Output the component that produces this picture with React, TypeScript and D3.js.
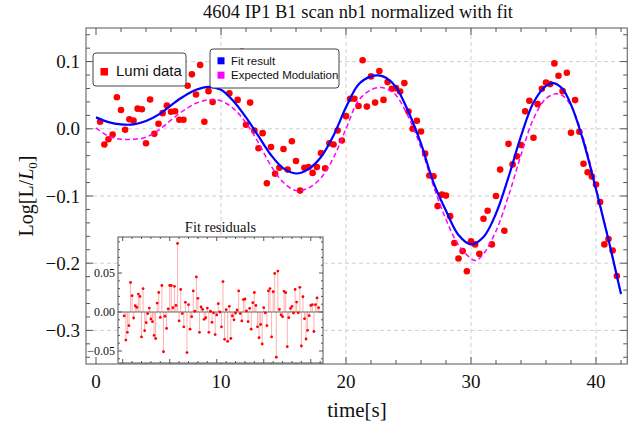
import React from 'react';
import * as d3 from 'd3';

const timeS = [0.33,0.67,1,1.33,1.67,2,2.33,2.67,3,3.33,3.67,4,4.33,4.67,5,5.33,5.67,6,6.33,6.67,7,7.33,7.67,8,8.33,8.67,9,9.33,9.67,10,10.33,10.67,11,11.33,11.67,12,12.33,12.67,13,13.33,13.67,14,14.33,14.67,15,15.33,15.67,16,16.33,16.67,17,17.33,17.67,18,18.33,18.67,19,19.33,19.67,20,20.33,20.67,21,21.33,21.67,22,22.33,22.67,23,23.33,23.67,24,24.33,24.67,25,25.33,25.67,26,26.33,26.67,27,27.33,27.67,28,28.33,28.67,29,29.33,29.67,30,30.33,30.67,31,31.33,31.67,32,32.33,32.67,33,33.33,33.67,34,34.33,34.67,35,35.33,35.67,36,36.33,36.67,37,37.33,37.67,38,38.33,38.67,39,39.33,39.67,40,40.33,40.67,41,41.33,41.67];

const lumiData = [0.0104,-0.0234,-0.0155,-0.0085,0.047,0.028,-0.0015,0.0143,0.0124,0.030,0.029,-0.0214,0.0437,-0.0075,0.0075,0.0233,0.0347,0.0253,0.0262,0.0134,0.0134,0.064,0.081,0.051,0.095,0.0104,0.056,0.040,0.065,0.094,0.090,0.053,0.074,0.043,0.115,0.006,0.039,-0.0025,-0.029,-0.0065,-0.081,-0.027,-0.067,-0.058,-0.030,-0.0607,-0.0185,-0.048,-0.092,-0.058,-0.057,-0.0656,-0.057,-0.036,-0.0587,-0.0214,-0.0234,-0.0025,-0.0174,0.0188,0.0447,0.0447,0.034,0.102,0.033,0.078,0.039,0.086,0.043,0.0695,0.0596,0.0605,0.0556,0.068,0.0258,0.0,0.012,-0.004,-0.037,-0.0696,-0.0706,-0.115,-0.098,-0.0994,-0.130,-0.170,-0.193,-0.182,-0.212,-0.1675,-0.172,-0.186,-0.134,-0.122,-0.172,-0.100,-0.0607,-0.1516,-0.0224,-0.053,-0.041,-0.024,0.026,0.0417,-0.0134,0.0367,0.0596,0.069,0.0665,0.0973,0.079,0.056,0.0834,-0.006,0.0427,-0.0045,-0.052,-0.0647,-0.071,-0.083,-0.109,-0.172,-0.164,-0.181,-0.219];

const residuals = [-0.005,-0.036,-0.026,-0.0175,0.038,0.021,-0.0077,0.008,0.006,0.023,0.020,-0.032,0.030,-0.024,-0.0137,-0.002,0.005,-0.009,-0.0124,-0.030,-0.034,0.0115,0.025,-0.007,0.034,-0.051,-0.0055,-0.021,0.004,0.034,0.034,0.0055,0.033,0.0085,0.088,-0.0115,0.029,-0.002,-0.019,0.0124,-0.052,0.0094,-0.022,-0.006,0.027,0.001,0.045,0.0175,-0.026,0.0064,0.0034,-0.0094,-0.0073,0.005,-0.026,0.001,-0.0132,-0.001,-0.029,-0.0038,0.0107,0.0,-0.019,
0.039,-0.035,0.003,-0.0376,0.0073,-0.034,-0.005,-0.010,-0.0013,0.0026,0.027,-0.002,-0.0115,0.016,0.0167,0.0013,-0.0124,0.0047,-0.022,0.012,0.025,0.0085,-0.019,-0.033,-0.016,-0.041,0.0055,-0.001,-0.0175,0.027,0.030,-0.032,0.026,0.0495,-0.058,0.0525,0.0034,-0.0038,-0.006,0.0265,0.0248,-0.0444,-0.0073,0.0047,0.0073,-0.0013,0.029,0.0128,-0.001,0.0316,-0.0436,0.0196,-0.0085,-0.0346,-0.0235,-0.0047,0.0085,0.0094,-0.025,0.0094,0.018,0.0055];

const fitT = [0,1,2,3,4,5,6,7,8,9,10,11,12,13,14,15,16,17,18,19,20,21,22,22.6,23.2,24,25,26,27,28,29,30,31,32,33,34,35,36,36.6,37.3,38,39,40,41,42];
const fitV = [0.017,0.010,0.0065,0.0065,0.0115,0.021,0.035,0.048,0.058,0.0625,0.058,0.041,0.017,-0.011,-0.039,-0.059,-0.0665,-0.060,-0.042,-0.010,0.032,0.066,0.078,0.0795,0.076,0.062,0.025,-0.022,-0.080,-0.122,-0.158,-0.172,-0.161,-0.126,-0.072,-0.011,0.039,0.064,0.068,0.060,0.036,-0.019,-0.090,-0.165,-0.246];

const expT = [0,1,2,3,4,5,6,7,8,9,10,11,12,13,14,15,16,17,18,19,20,21,22,22.8,23.4,24,25,26,27,28,29,30,30.4,31,32,33,34,35,36,36.8,37.3,38,39,40,41,42];
const expV = [0.0015,-0.011,-0.0155,-0.0155,-0.0125,-0.002,0.013,0.027,0.038,0.043,0.0415,0.030,0.009,-0.021,-0.055,-0.080,-0.092,-0.088,-0.073,-0.043,0.0,0.042,0.058,0.0615,0.058,0.050,0.0173,-0.028,-0.085,-0.135,-0.173,-0.193,-0.196,-0.186,-0.152,-0.100,-0.039,0.015,0.045,0.052,0.0496,0.034,-0.015,-0.088,-0.165,-0.246];

const xTickValues = [0, 10, 20, 30, 40];
const xTickLabels = ['0', '10', '20', '30', '40'];
const yTickValues = [0.1, 0, -0.1, -0.2, -0.3];
const yTickLabels = ['0.1', '0.0', '\u22120.1', '\u22120.2', '\u22120.3'];
const insetYTickValues = [0.05, 0, -0.05];
const insetYTickLabels = ['0.05', '0.00', '\u22120.05'];

const titleText = '4604 IP1 B1 scan nb1 normalized with fit';
const legendLumi = 'Lumi data';
const legendFit = 'Fit result';
const legendExp = 'Expected Modulation';

const SERIF = '"Liberation Serif", "Times New Roman", serif';
const SANS = '"Liberation Sans", Arial, sans-serif';

export default function App() {
  const L = 86, R = 627.25, T = 28, B = 364;
  const x = d3.scaleLinear().domain([-0.8, 42.5]).range([L, R]);
  const y = d3.scaleLinear().domain([-0.35, 0.15]).range([B, T]);

  const iL = 118, iR = 323, iT = 237, iB = 363;
  const ix = d3.scaleLinear().domain([-1.0, 42.6]).range([iL, iR]);
  const iy = d3.scaleLinear().domain([-0.0654, 0.0962]).range([iB, iT]);

  const fitLine = d3.line<number>().x((d, i) => x(fitT[i])).y(d => y(d)).curve(d3.curveCatmullRom.alpha(0.5));
  const expLine = d3.line<number>().x((d, i) => x(expT[i])).y(d => y(d)).curve(d3.curveCatmullRom.alpha(0.5));

  const frameColor = '#555';
  const gridColor = '#cfcfcf';

  const xMinor = d3.range(0, 43, 2).filter(v => v % 10 !== 0 && v <= 42.5);
  const yMinor = d3.range(-34, 15, 2).map(v => v / 100).filter(v => Math.abs(Math.round(v * 100) % 10) !== 0);

  const ixMinor = d3.range(0, 43, 2).filter(v => v % 10 !== 0);
  const iyMinor = d3.range(-6, 10, 1).map(v => v / 100).filter(v => Math.abs(Math.round(v * 100)) % 5 !== 0);

  return (
    <svg width={642} height={426} style={{ position: 'absolute', left: 0, top: 0, background: '#fff' }}>
      <rect x={0} y={0} width={642} height={426} fill="#fff" />
      {/* grid */}
      {xTickValues.filter(v => v !== 0).map(v => (
        <line key={'gx' + v} x1={x(v)} x2={x(v)} y1={T} y2={B} stroke={gridColor} strokeDasharray="4,3" strokeWidth={1} />
      ))}
      {yTickValues.map(v => (
        <line key={'gy' + v} x1={L} x2={R} y1={y(v)} y2={y(v)} stroke={gridColor} strokeDasharray="4,3" strokeWidth={1} />
      ))}
      {/* data */}
      {lumiData.map((v, i) => (
        <circle key={'d' + i} cx={x(timeS[i])} cy={y(v)} r={3.3} fill="#ff0000" />
      ))}
      <path d={expLine(expV) || ''} fill="none" stroke="#ff00ff" strokeWidth={1.5} strokeDasharray="5,3" />
      <path d={fitLine(fitV) || ''} fill="none" stroke="#0000ff" strokeWidth={2.2} />

      {/* legends */}
      <rect x={93} y={53} width={93} height={33} rx={3} fill="#fff" stroke="#444" strokeWidth={1} />
      <rect x={100.5} y={68} width={7.5} height={7.5} fill="#ff0000" />
      <text x={116} y={75.5} fontFamily={SANS} fontSize={15} fill="#111">{legendLumi}</text>

      <rect x={210} y={49} width={129} height={39} rx={3} fill="#fff" stroke="#444" strokeWidth={1} />
      <rect x={217.5} y={57.3} width={7} height={7} fill="#0000ff" />
      <text x={231} y={64.5} fontFamily={SANS} fontSize={11.5} fill="#111">{legendFit}</text>
      <rect x={217.5} y={71.7} width={7} height={7} fill="#ff00ff" />
      <text x={231} y={79} fontFamily={SANS} fontSize={11.5} fill="#111">{legendExp}</text>

      {/* main frame */}
      <rect x={L} y={T} width={R - L} height={B - T} fill="none" stroke={frameColor} strokeWidth={1} />
      {xTickValues.map(v => (
        <g key={'xt' + v}>
          <line x1={x(v)} x2={x(v)} y1={B} y2={B - 7} stroke={frameColor} />
          <line x1={x(v)} x2={x(v)} y1={T} y2={T + 7} stroke={frameColor} />
        </g>
      ))}
      {xMinor.map(v => (
        <g key={'xm' + v}>
          <line x1={x(v)} x2={x(v)} y1={B} y2={B - 4} stroke={frameColor} />
          <line x1={x(v)} x2={x(v)} y1={T} y2={T + 4} stroke={frameColor} />
        </g>
      ))}
      {yTickValues.map(v => (
        <g key={'yt' + v}>
          <line x1={L} x2={L + 7} y1={y(v)} y2={y(v)} stroke={frameColor} />
          <line x1={R} x2={R - 7} y1={y(v)} y2={y(v)} stroke={frameColor} />
        </g>
      ))}
      {yMinor.map(v => (
        <g key={'ym' + v}>
          <line x1={L} x2={L + 4} y1={y(v)} y2={y(v)} stroke={frameColor} />
          <line x1={R} x2={R - 4} y1={y(v)} y2={y(v)} stroke={frameColor} />
        </g>
      ))}
      {xTickValues.map((v, i) => (
        <text key={'xl' + v} x={x(v)} y={388} textAnchor="middle" fontFamily={SERIF} fontSize={19} fill="#111">{xTickLabels[i]}</text>
      ))}
      {yTickValues.map((v, i) => (
        <text key={'yl' + v} x={80} y={y(v) + 6.5} textAnchor="end" fontFamily={SERIF} fontSize={19} fill="#111">{yTickLabels[i]}</text>
      ))}

      {/* inset */}
      <text x={(iL + iR) / 2} y={232} textAnchor="middle" fontFamily={SERIF} fontSize={14.5} fill="#111">Fit residuals</text>
      <rect x={iL} y={iT} width={iR - iL} height={iB - iT} fill="#fff" stroke={frameColor} strokeWidth={1} />
      {residuals.map((r, i) => (
        <line key={'st' + i} x1={ix(timeS[i])} x2={ix(timeS[i])} y1={iy(0)} y2={iy(r)} stroke="#ffb0b0" strokeWidth={1} />
      ))}
      <line x1={iL} x2={iR} y1={iy(0)} y2={iy(0)} stroke="#666" strokeWidth={1.2} />
      {residuals.map((r, i) => (
        <circle key={'rp' + i} cx={ix(timeS[i])} cy={iy(r)} r={1.4} fill="#ff0000" />
      ))}
      {insetYTickValues.map((v, i) => (
        <g key={'iyt' + v}>
          <line x1={iL} x2={iL + 4} y1={iy(v)} y2={iy(v)} stroke={frameColor} />
          <line x1={iR} x2={iR - 4} y1={iy(v)} y2={iy(v)} stroke={frameColor} />
          <text x={115} y={iy(v) + 4} textAnchor="end" fontFamily={SERIF} fontSize={12} fill="#111">{insetYTickLabels[i]}</text>
        </g>
      ))}
      {iyMinor.map(v => (
        <g key={'iym' + v}>
          <line x1={iL} x2={iL + 2} y1={iy(v)} y2={iy(v)} stroke={frameColor} />
          <line x1={iR} x2={iR - 2} y1={iy(v)} y2={iy(v)} stroke={frameColor} />
        </g>
      ))}
      {xTickValues.map(v => (
        <g key={'ixt' + v}>
          <line x1={ix(v)} x2={ix(v)} y1={iB} y2={iB - 4} stroke={frameColor} />
          <line x1={ix(v)} x2={ix(v)} y1={iT} y2={iT + 4} stroke={frameColor} />
        </g>
      ))}
      {ixMinor.map(v => (
        <g key={'ixm' + v}>
          <line x1={ix(v)} x2={ix(v)} y1={iB} y2={iB - 2} stroke={frameColor} />
          <line x1={ix(v)} x2={ix(v)} y1={iT} y2={iT + 2} stroke={frameColor} />
        </g>
      ))}

      {/* titles */}
      <text x={358} y={18} textAnchor="middle" fontFamily={SERIF} fontSize={18.5} fill="#111">{titleText}</text>
      <text x={357} y={417} textAnchor="middle" fontFamily={SERIF} fontSize={21} fill="#111">time[s]</text>
      <text transform="translate(33,196) rotate(-90)" textAnchor="middle" fontFamily={SERIF} fontSize={20} fill="#111">
        Log[L/<tspan fontStyle="italic">L</tspan><tspan fontSize={13} dy={4}>0</tspan><tspan dy={-4}>]</tspan>
      </text>
    </svg>
  );
}
